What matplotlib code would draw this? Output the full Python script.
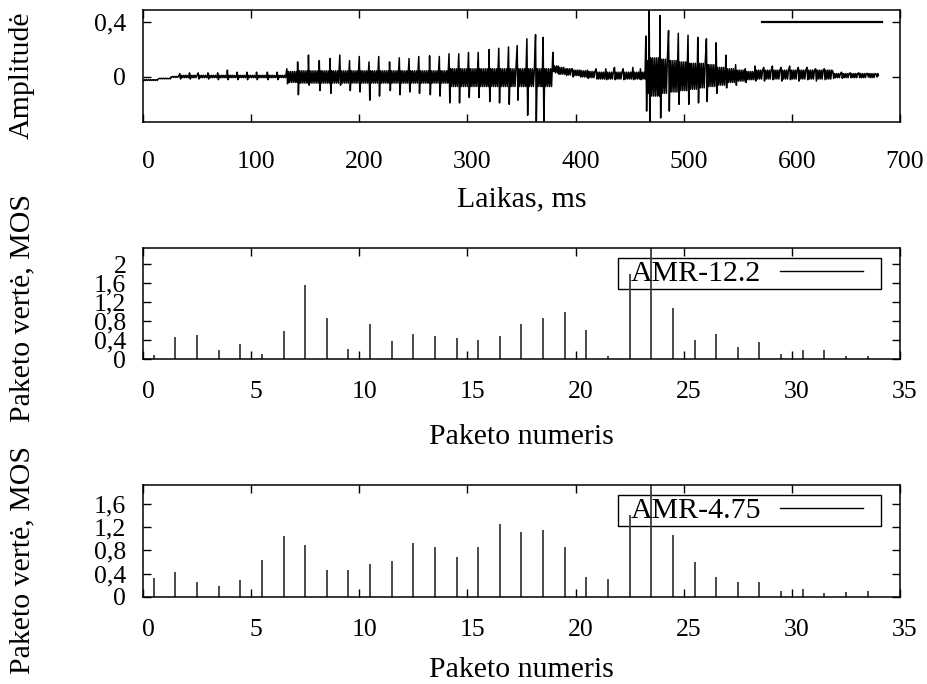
import numpy as np
import matplotlib
matplotlib.use("Agg")
import matplotlib.pyplot as plt
import matplotlib.transforms as mtransforms
from matplotlib.lines import Line2D
from matplotlib.patches import Rectangle

plt.rcParams["font.family"] = ["Liberation Serif", "DejaVu Serif"]
plt.rcParams["font.size"] = 18.5
LABEL_SIZE = 21.5

# speech signal: glottal pulses (time, peak, trough) and the ripple band after each pulse
pulse_ms = [0, 14, 26, 34, 43, 51, 60, 69, 78, 87, 96, 105, 115, 124, 133,
            143, 153, 163, 173, 182, 191, 200, 209, 218, 228, 237, 246, 255,
            265, 274, 283, 292, 301, 310, 320, 329, 338, 346, 355, 363, 370,
            379, 384, 391, 397, 404, 411, 419, 428, 436, 444, 453, 460,
            465, 468, 478, 486, 495, 504, 513, 521, 530, 539, 548, 557,
            566, 574, 582, 590, 598, 606, 614, 622, 630, 638, 646, 654, 662, 670, 678]
pulse_hi = [-0.03, -0.015, 0.0, 0.025, 0.03, 0.03, 0.03, 0.03, 0.05, 0.035, 0.035, 0.035, 0.035, 0.035, 0.06,
            0.11, 0.16, 0.12, 0.135, 0.16, 0.12, 0.15, 0.11, 0.15, 0.11, 0.14, 0.135, 0.15,
            0.155, 0.15, 0.17, 0.17, 0.18, 0.18, 0.20, 0.21, 0.22, 0.23, 0.28, 0.31, 0.29,
            0.18, 0.08, 0.06, 0.06, 0.05, 0.05, 0.06, 0.06, 0.07, 0.06, 0.07, 0.06,
            0.30, 0.60, 0.45, 0.34, 0.32, 0.305, 0.29, 0.28, 0.25, 0.16, 0.09, 0.06,
            0.08, 0.07, 0.08, 0.07, 0.08, 0.07, 0.07, 0.06, 0.06, 0.04, 0.035, 0.03, 0.03, 0.025, 0.02]
pulse_lo = [-0.028, -0.013, 0.0, -0.015, -0.015, -0.015, -0.015, -0.02, -0.02, -0.02, -0.02, -0.02, -0.02, -0.02, -0.05,
            -0.13, -0.06, -0.10, -0.12, -0.06, -0.10, -0.11, -0.17, -0.14, -0.10, -0.13, -0.11, -0.12,
            -0.13, -0.14, -0.19, -0.19, -0.15, -0.15, -0.18, -0.19, -0.20, -0.17, -0.28, -0.36, -0.36,
            0.04, 0.02, 0.01, 0.0, 0.0, -0.01, -0.015, -0.02, -0.02, -0.02, -0.02, -0.02,
            -0.25, -0.40, -0.30, -0.25, -0.20, -0.20, -0.19, -0.18, -0.12, -0.08, -0.06, -0.04,
            -0.03, -0.03, -0.02, -0.03, -0.02, -0.03, -0.02, -0.03, -0.02, -0.01, -0.01, -0.005, -0.005, 0.0, 0.0]
band_top = [-0.02, -0.01, 0.004] + [0.012] * 11 + [0.04] + \
           [0.045] * 15 + [0.06] * 11 + \
           [0.08, 0.07, 0.06, 0.05, 0.045, 0.04] + [0.035] * 6 + \
           [0.12, 0.14, 0.13, 0.12, 0.11, 0.10, 0.10, 0.09, 0.07, 0.06, 0.05, 0.04] + \
           [0.05] * 9 + [0.025] * 6
band_bot = [-0.025, -0.013, -0.003] + [-0.005] * 11 + [-0.04] + \
           [-0.045] * 15 + [-0.07] * 11 + \
           [0.03, 0.02, 0.015, 0.01, 0.0, -0.005] + [-0.015] * 6 + \
           [-0.12, -0.14, -0.12, -0.11, -0.10, -0.09, -0.08, -0.07, -0.06, -0.04, -0.03, -0.02] + \
           [-0.015] * 9 + [-0.005] * 6
signal_end = (680, 0.01)

# MOS value of each lost packet
packet_x = np.arange(0.5, 34, 1.0)
mos_122 = [0.08, 0.46, 0.505, 0.18, 0.31, 0.105, 0.60, 1.56, 0.87, 0.22, 0.73, 0.38,
           0.52, 0.48, 0.44, 0.40, 0.49, 0.74, 0.87, 1.00, 0.61, 0.06, 1.80, 2.60,
           1.08, 0.41, 0.52, 0.26, 0.35, 0.10, 0.19, 0.18, 0.06, 0.07]
mos_475 = [0.32, 0.43, 0.25, 0.19, 0.29, 0.63, 1.05, 0.90, 0.46, 0.46, 0.56, 0.62,
           0.92, 0.85, 0.68, 0.85, 1.26, 1.11, 1.15, 0.85, 0.34, 0.31, 1.41, 2.20,
           1.06, 0.60, 0.34, 0.25, 0.26, 0.11, 0.14, 0.06, 0.09, 0.11]


def build_signal():
    ts, amps = [], []
    n = len(pulse_ms)
    for i in range(n):
        t0 = pulse_ms[i]
        t1 = pulse_ms[i + 1] if i + 1 < n else signal_end[0]
        ts += [t0, t0 + 0.7]
        amps += [pulse_hi[i], pulse_lo[i]]
        # dense ripple between pulses
        for k, t in enumerate(np.arange(t0 + 1.5, t1 - 0.3, 0.9)):
            ts.append(t)
            amps.append(band_top[i] if k % 2 == 0 else band_bot[i])
    ts.append(signal_end[0])
    amps.append(signal_end[1])
    return ts, amps


def comma(v):
    return ("%g" % v).replace(".", ",")


def style_axis(ax, fig, xpad):
    ax.tick_params(direction="in", length=6, width=1, top=True, right=True, pad=12)
    ax.tick_params(axis="x", pad=xpad)
    for s in ax.spines.values():
        s.set_linewidth(1.1)
    ax.set_yticklabels([comma(v) for v in ax.get_yticks()])
    shift = mtransforms.ScaledTranslation(0.05, 0, fig.dpi_scale_trans)
    for lab in ax.get_xticklabels():
        lab.set_transform(lab.get_transform() + shift)


fig = plt.figure(figsize=(9.28, 6.84), dpi=100)
ax1 = fig.add_axes([0.1541, 0.8216, 0.8157, 0.1637])
ax2 = fig.add_axes([0.1541, 0.4751, 0.8157, 0.1623])
ax3 = fig.add_axes([0.1541, 0.1272, 0.8157, 0.1637])

# waveform
ts, amps = build_signal()
wave, = ax1.plot(ts, amps, color="black", lw=1.1)
ax1.set_xlim(0, 700)
ax1.set_ylim(-0.33, 0.49)
ax1.set_xticks(range(0, 701, 100))
ax1.set_yticks([0, 0.4])
style_axis(ax1, fig, 21)
ax1.set_xlabel("Laikas, ms", va="center", fontsize=LABEL_SIZE)
ax1.xaxis.set_label_coords(0.5, -0.6875)
ax1.set_ylabel("Amplitudė", va="center", fontsize=LABEL_SIZE)
ax1.yaxis.set_label_coords(-0.16, 0.42)
sample = Line2D([], [], color="black", lw=1.6)
ax1.legend(handles=[sample], labels=[""], loc="center right", bbox_to_anchor=(0.976, 0.87),
           frameon=False, markerfirst=False, handlelength=4.0, handletextpad=0,
           borderpad=0, borderaxespad=0, fontsize=LABEL_SIZE)

# MOS impulses for both codecs
for ax, mos, name, top, yticks, ylab_y, xlab_y in [
        (ax2, mos_122, "AMR-12.2", 2.34, [0, 0.4, 0.8, 1.2, 1.6, 2], 0.46, -0.703),
        (ax3, mos_475, "AMR-4.75", 1.92, [0, 0.4, 0.8, 1.2, 1.6], 0.33, -0.652)]:
    ax.vlines(packet_x, 0, mos, color="#3c3c3c", lw=1.3, label=name)
    ax.set_xlim(0, 35)
    ax.set_ylim(0, top)
    ax.set_xticks(range(0, 36, 5))
    ax.set_yticks(yticks)
    style_axis(ax, fig, 16)
    ax.set_xlabel("Paketo numeris", va="center", fontsize=LABEL_SIZE)
    ax.xaxis.set_label_coords(0.5, xlab_y)
    ax.set_ylabel("Paketo vertė, MOS", va="center", fontsize=LABEL_SIZE)
    ax.yaxis.set_label_coords(-0.16, ylab_y)
    key = Line2D([], [], color="black", lw=1.0)
    ax.legend(handles=[key], labels=[name], loc="center right", bbox_to_anchor=(0.951, 0.770),
              frameon=False, markerfirst=False, handlelength=2.78, handletextpad=0.64,
              borderpad=0, borderaxespad=0, fontsize=LABEL_SIZE)
    ax.add_patch(Rectangle((0.6275, 0.632), 0.3475, 0.276, transform=ax.transAxes,
                           fill=False, edgecolor="black", lw=1.0, clip_on=False))

fig.savefig("out.png", dpi=100)
